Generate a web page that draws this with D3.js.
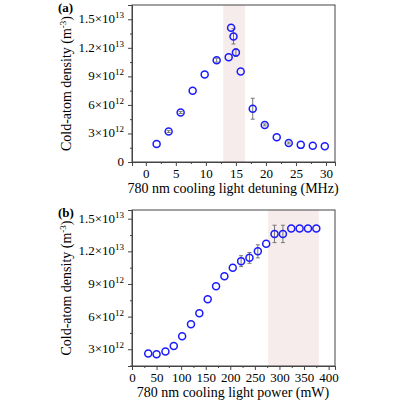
<!DOCTYPE html>
<html><head><meta charset="utf-8">
<script src="https://cdn.jsdelivr.net/npm/d3@7"></script>
<style>body{margin:0;background:#fff}text{font-family:"Liberation Serif",serif;fill:#000}</style>
</head><body>
<script>
// panel (a) data
const detX = [1.8,3.8,5.8,7.8,9.8,11.8,13.8,14.2,14.6,15,15.8,17.8,19.8,21.8,23.8,25.8,27.8,29.8];
const detY = [1.9,3.2,5.2,7.5,9.2,10.7,11.0,14.1,13.2,11.5,9.5,5.6,3.9,2.6,2.0,1.8,1.7,1.65];
const detErr = [0,0.1,0.1,0,0,0.2,0,0,0.8,0.4,0,1.1,0.1,0,0.1,0,0,0];
// panel (b) data
const powX = [33,50,68,85,102,120,137,154,171,188,205,222,239,256,273,290,307,324,341,358,375];
const powY = [2.6,2.55,2.8,3.3,4.2,5.3,6.3,7.6,8.8,9.7,10.5,11.1,11.4,12.0,12.7,13.6,13.6,14.1,14.1,14.1,14.1];
const powErr = [0,0,0,0,0,0,0,0,0,0,0,0.5,0.5,0.6,0,0.8,0.8,0,0,0,0];
const yTicks = [3,6,9,12,15]; // ×10^12

const svg = d3.select('body').append('svg').attr('width',400).attr('height',400);

function panel(o){
  const g = svg.append('g');
  const x = d3.scaleLinear().domain(o.xd).range([132,335]);
  const y = d3.scaleLinear().domain(o.yd).range([o.bot,o.top]);
  g.append('rect').attr('x',x(o.shade[0])).attr('width',x(o.shade[1])-x(o.shade[0]))
    .attr('y',o.top).attr('height',o.bot-o.top).attr('fill','#f7ecec');
  g.append('rect').attr('x',132).attr('y',o.top).attr('width',203).attr('height',o.bot-o.top)
    .attr('fill','none').attr('stroke','#444').attr('stroke-width',1);
  const xa = g.append('g').attr('transform',`translate(0,${o.bot})`)
    .call(d3.axisBottom(x).tickValues(o.xt).tickSize(4).tickPadding(3));
  g.append('g').attr('transform',`translate(0,${o.bot})`)
    .call(d3.axisBottom(x).tickValues(o.xm).tickSize(2).tickFormat(''));
  g.append('g').attr('transform','translate(132,0)')
    .call(d3.axisLeft(y).tickValues(o.yt).tickSize(4).tickFormat(''));
  g.append('g').attr('transform','translate(132,0)')
    .call(d3.axisLeft(y).tickValues(o.yt.map(v=>v-1.5).filter(v=>v>o.yd[0])).tickSize(2).tickFormat(''));
  g.selectAll('.domain').attr('stroke','#444');
  g.selectAll('.tick line').attr('stroke','#444');
  xa.selectAll('text').attr('font-size',13).style('font-family','Liberation Serif');
  o.yt.forEach(v=>{
    const t = g.append('text').attr('x',124).attr('y',y(v)+4).attr('text-anchor','end').attr('font-size',13);
    if(v===0){t.text('0');return;}
    const lab = v>=12 ? [(v/10).toFixed(1),'13'] : [String(v),'12'];
    t.append('tspan').text(lab[0]+'×10');
    t.append('tspan').attr('font-size',9).attr('dy',-5).text(lab[1]);
  });
  const yl = g.append('text').attr('transform',`translate(71,${(o.top+o.bot)/2}) rotate(-90)`)
    .attr('text-anchor','middle').attr('font-size',14);
  yl.append('tspan').text('Cold-atom density (m');
  yl.append('tspan').attr('font-size',9).attr('dy',-5).text('-3');
  yl.append('tspan').attr('dy',5).text(')');
  g.append('text').attr('x',233).attr('y',o.bot+31).attr('text-anchor','middle').attr('font-size',14).text(o.xl);
  g.append('text').attr('x',58).attr('y',o.top+7).attr('font-size',13).attr('font-weight','bold').text(o.tag);
  const idx = o.px.map((_,i)=>i);
  const ei = idx.filter(i=>o.pe[i]>0);
  g.selectAll(null).data(ei).enter().append('line')
    .attr('x1',i=>x(o.px[i])).attr('x2',i=>x(o.px[i]))
    .attr('y1',i=>y(o.py[i]-o.pe[i])).attr('y2',i=>y(o.py[i]+o.pe[i])).attr('stroke','#777');
  [-1,1].forEach(s=>{
    g.selectAll(null).data(ei).enter().append('line')
      .attr('x1',i=>x(o.px[i])-2).attr('x2',i=>x(o.px[i])+2)
      .attr('y1',i=>y(o.py[i]+s*o.pe[i])).attr('y2',i=>y(o.py[i]+s*o.pe[i]))
      .attr('stroke','#777');
  });
  g.selectAll(null).data(idx).enter().append('circle')
    .attr('cx',i=>x(o.px[i])).attr('cy',i=>y(o.py[i])).attr('r',3.5)
    .attr('fill','none').attr('stroke','#1a1aff').attr('stroke-width',1.5);
}

panel({xd:[-2.3,31.5], yd:[0,16.5], top:5, bot:162, shade:[12.9,16.5],
  xt:[0,5,10,15,20,25,30], xm:[2.5,7.5,12.5,17.5,22.5,27.5], yt:[0].concat(yTicks),
  px:detX, py:detY, pe:detErr, tag:'(a)', xl:'780 nm cooling light detuning (MHz)'});
panel({xd:[0,413], yd:[1.46,15.8], top:210, bot:366, shade:[277,380],
  xt:[0,50,100,150,200,250,300,350,400], xm:[25,75,125,175,225,275,325,375], yt:yTicks,
  px:powX, py:powY, pe:powErr, tag:'(b)', xl:'780 nm cooling light power (mW)'});
</script>
</body></html>
